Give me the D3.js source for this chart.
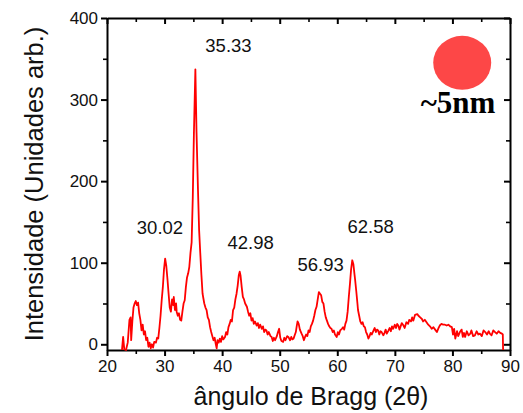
<!DOCTYPE html>
<html>
<head>
<meta charset="utf-8">
<script src="https://cdn.jsdelivr.net/npm/d3@7"></script>
<style>
  body { margin: 0; background: #fff; }
  svg text { font-family: "Liberation Sans", Arial, sans-serif; fill: #111; }
  .axis path, .axis line { stroke: #000; stroke-width: 2; }
  .minor line { stroke-width: 1.6; }
</style>
</head>
<body>
<svg id="chart" width="523" height="413"></svg>
<script>
// data (2theta in degrees, intensity in arb. units)
const twoTheta = [
	22.6, 22.8, 23.0, 23.3, 23.6, 23.9, 24.1, 24.2, 24.4, 24.6, 24.8, 25.0, 25.2, 25.4, 25.6, 25.8,
	26.0, 26.2, 26.4, 26.6, 26.8, 27.0, 27.2, 27.4, 27.6, 27.8, 28.0, 28.2, 28.5, 28.7, 28.9, 29.1,
	29.3, 29.5, 29.7, 29.9, 30.1, 30.3, 30.5, 30.7, 30.9, 31.1, 31.3, 31.5, 31.6, 31.8, 32.0, 32.1,
	32.3, 32.5, 32.7, 32.9, 33.1, 33.3, 33.5, 33.7, 33.9, 34.1, 34.3, 34.5, 34.7, 34.9, 35.1, 35.35,
	35.55, 35.8, 36.0, 36.2, 36.4, 36.6, 36.7, 36.9, 37.1, 37.3, 37.5, 37.7, 37.9, 38.1, 38.3, 38.5,
	38.7, 38.9, 39.05, 39.2, 39.4, 39.6, 39.8, 40.0, 40.2, 40.5, 40.7, 40.9, 41.1, 41.3, 41.5, 41.7,
	41.9, 42.1, 42.3, 42.5, 42.7, 42.9, 43.05, 43.2, 43.4, 43.6, 43.8, 44.0, 44.3, 44.5, 44.7, 44.9,
	45.1, 45.3, 45.5, 45.7, 46.0, 46.2, 46.4, 46.6, 46.9, 47.1, 47.3, 47.5, 47.7, 47.9, 48.1, 48.4,
	48.6, 48.8, 49.0, 49.2, 49.5, 49.7, 49.9, 50.1, 50.3, 50.6, 50.8, 51.0, 51.3, 51.5, 51.8, 52.0,
	52.2, 52.4, 52.6, 52.8, 52.95, 53.1, 53.3, 53.5, 53.8, 54.0, 54.2, 54.4, 54.6, 54.8, 55.0, 55.2,
	55.4, 55.6, 55.8, 56.0, 56.2, 56.4, 56.6, 56.8, 57.0, 57.2, 57.4, 57.6, 57.8, 58.0, 58.2, 58.4,
	58.6, 58.8, 59.0, 59.2, 59.4, 59.6, 59.9, 60.1, 60.3, 60.5, 60.8, 61.0, 61.2, 61.4, 61.6, 61.8,
	62.0, 62.2, 62.4, 62.6, 62.8, 63.0, 63.1, 63.3, 63.5, 63.6, 63.8, 64.0, 64.2, 64.4, 64.6, 64.8,
	65.0, 65.2, 65.4, 65.6, 65.8, 66.0, 66.3, 66.5, 66.7, 66.9, 67.1, 67.3, 67.5, 67.7, 68.0, 68.2,
	68.4, 68.6, 68.9, 69.1, 69.3, 69.5, 69.7, 70.0, 70.2, 70.4, 70.6, 70.8, 71.0, 71.2, 71.5, 71.7,
	72.0, 72.3, 72.5, 72.8, 73.0, 73.2, 73.5, 73.9, 74.1, 74.4, 74.7, 74.9, 75.2, 75.5, 75.8, 76.1,
	76.4, 76.7, 77.0, 77.3, 77.6, 77.8, 78.1, 78.4, 78.7, 79.0, 79.3, 79.6, 79.9, 80.1, 80.3, 80.5,
	80.8, 81.0, 81.3, 81.6, 81.8, 82.0, 82.2, 82.5, 82.8, 83.1, 83.3, 83.6, 83.9, 84.2, 84.5, 84.8,
	85.1, 85.4, 85.7, 86.0, 86.3, 86.5, 86.8, 87.1, 87.4, 87.7, 88.0, 88.3, 88.6, 88.75, 88.8
];
const intensity = [
	-7, 9, -6, -7, 2, 30, 33, 5, 28, 45, 50, 53, 48, 51, 38, 30,
	17, 24, 12, 16, 5, 8, -3, 2, -5, 0, -4, 3, 2, 8, 7, 20,
	35, 54, 70, 92, 105, 96, 80, 62, 45, 40, 55, 48, 58, 42, 50, 40,
	35, 38, 30, 29, 40, 50, 54, 70, 82, 87, 95, 112, 125, 180, 260, 337,
	260, 190, 140, 112, 85, 62, 58, 50, 45, 42, 33, 30, 21, 15, 10, 5,
	8, 0, -5, 5, 2, 7, 3, 10, 6, 9, 15, 12, 21, 25, 30, 28,
	42, 45, 55, 62, 72, 85, 89, 84, 70, 58, 55, 50, 46, 40, 35, 38,
	29, 32, 25, 28, 23, 26, 20, 24, 19, 22, 15, 18, 17, 12, 15, 10,
	9, 4, 8, 5, 10, 15, 19, 8, 4, 3, 8, 5, 10, 9, 5, 9,
	6, 7, 11, 15, 22, 28, 25, 18, 13, 10, 5, 9, 12, 10, 17, 15,
	22, 25, 29, 35, 42, 46, 55, 64, 62, 60, 52, 50, 40, 33, 29, 25,
	22, 20, 19, 15, 17, 12, 9, 15, 12, 17, 19, 21, 18, 25, 29, 40,
	58, 74, 92, 103, 98, 85, 79, 65, 50, 42, 35, 28, 25, 27, 22, 21,
	15, 12, 7, 10, 14, 12, 17, 20, 15, 18, 17, 12, 16, 15, 11, 14,
	18, 13, 17, 20, 16, 22, 19, 24, 20, 25, 23, 18, 22, 26, 23, 20,
	27, 25, 30, 28, 33, 29, 36, 37, 35, 33, 31, 28, 30, 27, 24, 22,
	19, 21, 18, 15, 20, 23, 25, 24, 24, 23, 24, 22, 21, 12, 19, 7,
	16, 10, 15, 18, 9, 14, 9, 16, 11, 13, 17, 10, 11, 16, 12, 13,
	10, 17, 15, 12, 16, 13, 11, 17, 15, 13, 16, 14, 13, 12, -7
];

// peak annotations: text, and where the text sits in data units
const peakLabels = ["35.33", "30.02", "42.98", "56.93", "62.58"];
const peakLabelX = [41.1, 29.2, 44.95, 57.1, 65.8];
const peakLabelY = [358, 135, 117, 90, 136];

const xTicks = [20, 30, 40, 50, 60, 70, 80, 90];
const yTicks = [0, 100, 200, 300, 400];

const svg = d3.select('#chart');
const plotLeft = 107, plotRight = 510, plotTop = 18, plotBottom = 350;

const x = d3.scaleLinear().domain([20, 90]).range([plotLeft, plotRight]);
const y = d3.scaleLinear().domain([-7, 400]).range([plotBottom, plotTop]);

const minorX = d3.range(25, 90, 10);
const minorY = d3.range(50, 400, 100);

// bottom axis
svg.append('g')
	.attr('class', 'axis')
	.attr('transform', `translate(0,${plotBottom})`)
	.call(d3.axisBottom(x).tickValues(xTicks).tickSize(6).tickPadding(4).tickSizeOuter(0))
	.call(g => g.selectAll('text').style('font-size', '17px'));
svg.append('g')
	.attr('class', 'axis minor')
	.attr('transform', `translate(0,${plotBottom})`)
	.call(d3.axisBottom(x).tickValues(minorX).tickSize(4).tickFormat('').tickSizeOuter(0))
	.call(g => g.select('.domain').remove());

// top axis, ticks pointing in
svg.append('g')
	.attr('class', 'axis')
	.attr('transform', `translate(0,${plotTop})`)
	.call(d3.axisBottom(x).tickValues(xTicks).tickSize(6).tickFormat('').tickSizeOuter(0));
svg.append('g')
	.attr('class', 'axis minor')
	.attr('transform', `translate(0,${plotTop})`)
	.call(d3.axisBottom(x).tickValues(minorX).tickSize(4).tickFormat('').tickSizeOuter(0))
	.call(g => g.select('.domain').remove());

// left axis
svg.append('g')
	.attr('class', 'axis')
	.attr('transform', `translate(${plotLeft},0)`)
	.call(d3.axisLeft(y).tickValues(yTicks).tickSize(6).tickPadding(3).tickSizeOuter(0))
	.call(g => g.selectAll('text').style('font-size', '17px'));
svg.append('g')
	.attr('class', 'axis minor')
	.attr('transform', `translate(${plotLeft},0)`)
	.call(d3.axisLeft(y).tickValues(minorY).tickSize(4).tickFormat('').tickSizeOuter(0))
	.call(g => g.select('.domain').remove());

// right axis, ticks pointing in
svg.append('g')
	.attr('class', 'axis')
	.attr('transform', `translate(${plotRight},0)`)
	.call(d3.axisLeft(y).tickValues(yTicks).tickSize(6).tickFormat('').tickSizeOuter(0));
svg.append('g')
	.attr('class', 'axis minor')
	.attr('transform', `translate(${plotRight},0)`)
	.call(d3.axisLeft(y).tickValues(minorY).tickSize(4).tickFormat('').tickSizeOuter(0))
	.call(g => g.select('.domain').remove());

// the pattern
const points = twoTheta.map((t, i) => [t, intensity[i]]);
const line = d3.line()
	.x(d => x(d[0]))
	.y(d => y(d[1]));

svg.append('path')
	.datum(points)
	.attr('d', line)
	.attr('fill', 'none')
	.attr('stroke', '#ff0000')
	.attr('stroke-width', 1.8)
	.attr('stroke-linejoin', 'round');

// peak labels
svg.selectAll('.peak')
	.data(peakLabels)
	.join('text')
	.attr('class', 'peak')
	.attr('x', (d, i) => x(peakLabelX[i]))
	.attr('y', (d, i) => y(peakLabelY[i]))
	.attr('text-anchor', 'middle')
	.style('font-size', '18.5px')
	.text(d => d);

// axis titles
svg.append('text')
	.attr('x', 311)
	.attr('y', 405)
	.attr('text-anchor', 'middle')
	.style('font-size', '25px')
	.text('ângulo de Bragg (2θ)');

svg.append('text')
	.attr('transform', `translate(43,${(plotTop + plotBottom) / 2}) rotate(-90)`)
	.attr('text-anchor', 'middle')
	.style('font-size', '25.5px')
	.text('Intensidade (Unidades arb.)');

// particle sketch
svg.append('ellipse')
	.attr('cx', x(81.7))
	.attr('cy', y(345))
	.attr('rx', 29)
	.attr('ry', 27)
	.attr('fill', '#fd4747');

svg.append('text')
	.attr('x', 458)
	.attr('y', 113)
	.attr('text-anchor', 'middle')
	.style('font-family', '"Liberation Serif", "Times New Roman", serif')
	.style('font-weight', 'bold')
	.style('font-size', '31px')
	.style('fill', '#000')
	.text('~5nm');
</script>
</body>
</html>
